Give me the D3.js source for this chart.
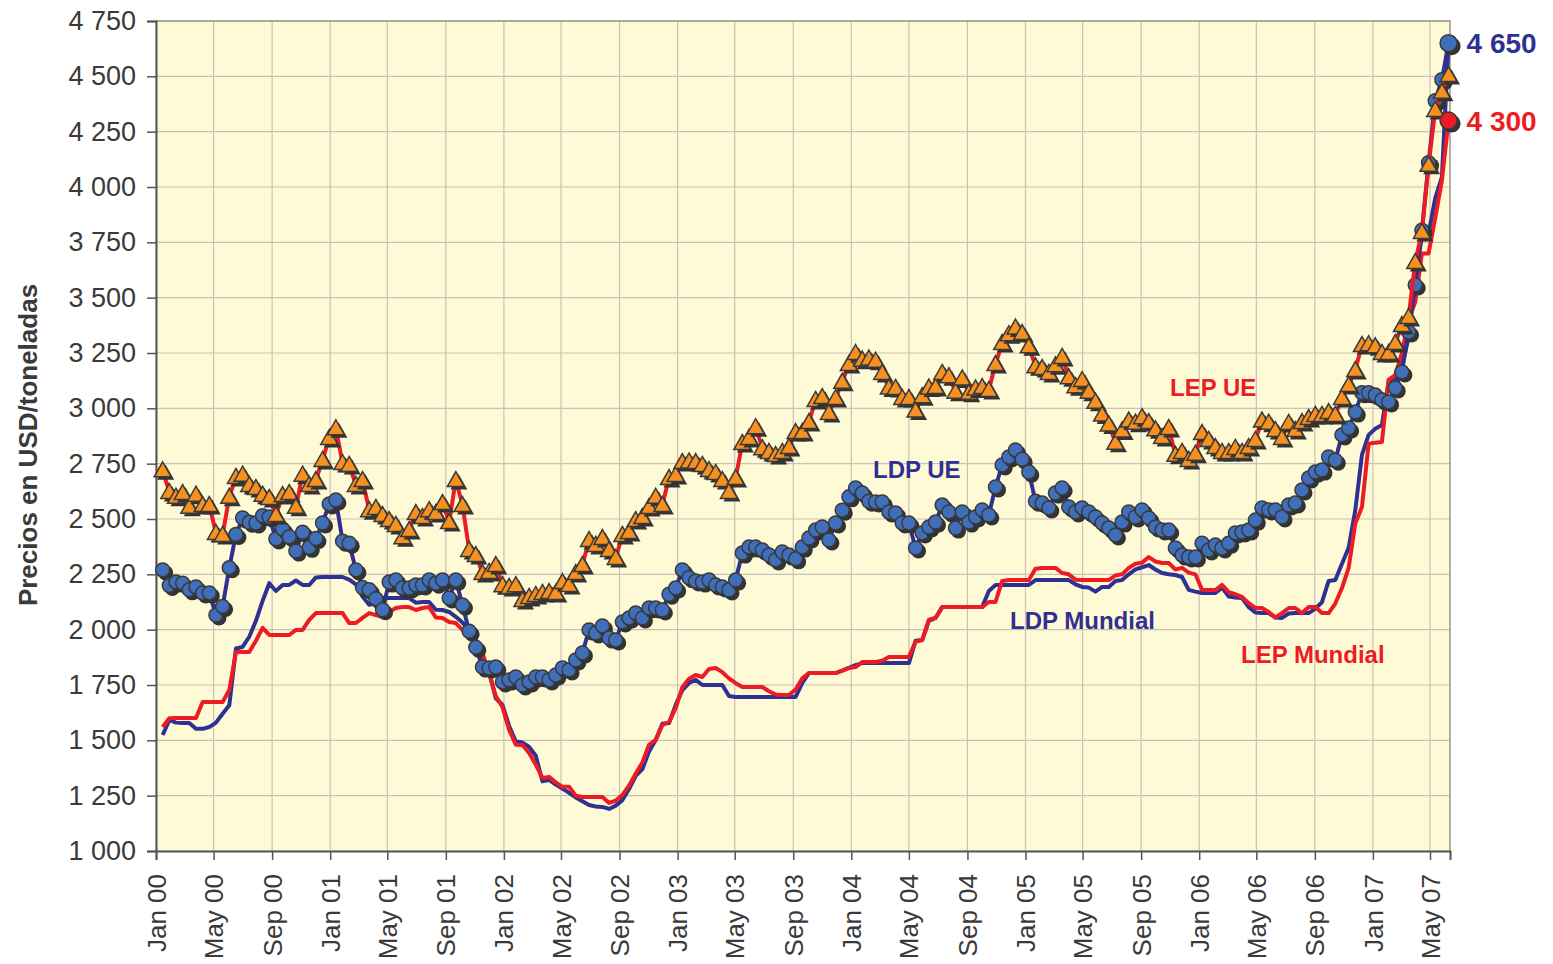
<!DOCTYPE html>
<html>
<head>
<meta charset="utf-8">
<script src="https://cdn.jsdelivr.net/npm/d3@7/dist/d3.min.js"></script>
<style>
  body { margin: 0; background: #fff; }
  svg { display: block; }
  text { font-family: "Liberation Sans", Arial, Helvetica, sans-serif; }
</style>
</head>
<body>
<div id="chart"></div>
<script>
// biweekly quotes, first one mid January 2000
var firstQuote = "2000-01-15";

var yTicks = [1000, 1250, 1500, 1750, 2000, 2250, 2500, 2750, 3000, 3250, 3500, 3750, 4000, 4250, 4500, 4750];

var xTickLabels = ["Jan 00", "May 00", "Sep 00", "Jan 01", "May 01", "Sep 01", "Jan 02", "May 02", "Sep 02",
    "Jan 03", "May 03", "Sep 03", "Jan 04", "May 04", "Sep 04", "Jan 05", "May 05", "Sep 05",
    "Jan 06", "May 06", "Sep 06", "Jan 07", "May 07"];

// LEP UE (triangles)
var lepUE = [2720,2622,2600,2617,2555,2610,2563,2563,2437,2428,
    2600,2690,2700,2654,2640,2610,2595,2518,2608,2617,
    2555,2700,2654,2676,2767,2866,2910,2753,2744,2654,
    2676,2540,2550,2518,2495,2473,2418,2450,2527,2509,
    2540,2527,2572,2486,2676,2563,2360,2337,2256,2261,
    2292,2201,2193,2201,2134,2148,2157,2166,2170,2166,
    2215,2202,2256,2292,2405,2383,2414,2360,2324,2428,
    2441,2495,2509,2554,2600,2563,2685,2699,2757,2760,
    2757,2744,2721,2708,2676,2622,2685,2843,2866,2915,
    2820,2803,2789,2803,2825,2893,2893,2938,3038,3051,
    2979,3047,3120,3200,3250,3220,3225,3215,3160,3094,
    3092,3047,3047,2990,3055,3094,3096,3160,3145,3075,
    3135,3070,3090,3096,3083,3200,3295,3335,3365,3340,
    3280,3190,3182,3160,3195,3232,3140,3100,3128,3075,
    3030,2972,2927,2845,2900,2945,2935,2960,2938,2905,
    2870,2911,2790,2803,2767,2795,2888,2857,2825,2803,
    2803,2821,2803,2825,2857,2945,2935,2902,2866,2934,
    2902,2938,2956,2970,2970,2983,2970,3047,3105,3173,
    3286,3290,3280,3250,3250,3295,3376,3413,3661,3797,
    4100,4348,4430,4506];

// LDP UE (dots)
var ldpUE = [2270,2200,2215,2210,2180,2193,2166,2166,2066,2105,
    2280,2430,2505,2485,2482,2515,2509,2410,2455,2420,
    2355,2440,2372,2412,2482,2568,2586,2400,2391,2270,
    2190,2180,2140,2090,2215,2224,2188,2188,2202,2202,
    2224,2210,2224,2143,2224,2111,1993,1920,1831,1827,
    1831,1764,1773,1786,1750,1764,1786,1786,1773,1795,
    1827,1818,1863,1895,1999,1985,2017,1962,1953,2035,
    2053,2075,2053,2098,2098,2089,2160,2188,2270,2235,
    2220,2215,2224,2202,2193,2179,2224,2346,2373,2373,
    2360,2337,2315,2351,2337,2320,2373,2414,2450,2464,
    2405,2482,2540,2600,2640,2617,2580,2577,2577,2532,
    2527,2482,2482,2369,2437,2464,2486,2563,2532,2459,
    2532,2486,2509,2541,2518,2645,2744,2780,2812,2770,
    2712,2580,2572,2550,2617,2640,2554,2532,2550,2532,
    2509,2482,2459,2428,2486,2532,2509,2541,2505,2464,
    2450,2450,2369,2337,2328,2328,2391,2360,2382,2369,
    2391,2437,2441,2450,2495,2550,2541,2541,2509,2563,
    2572,2631,2685,2712,2721,2780,2766,2880,2911,2983,
    3070,3070,3060,3038,3029,3092,3164,3345,3557,3805,
    4110,4390,4485,4650];

// LDP Mundial (navy line)
var ldpMundial = [1524,1592,1580,1578,1578,1552,1552,1560,1580,1620,
    1658,1915,1922,1968,2040,2130,2210,2175,2202,2202,
    2222,2202,2202,2236,2238,2238,2238,2238,2226,2205,
    2150,2112,2120,2143,2143,2143,2143,2143,2122,2125,
    2125,2090,2089,2080,2058,2032,1999,1955,1880,1810,
    1690,1660,1565,1495,1490,1470,1430,1315,1321,1300,
    1282,1263,1242,1225,1208,1201,1199,1190,1205,1230,
    1280,1340,1370,1450,1502,1575,1578,1660,1727,1759,
    1773,1750,1750,1750,1750,1700,1696,1696,1696,1696,
    1696,1696,1696,1696,1696,1696,1760,1804,1804,1804,
    1804,1804,1815,1827,1840,1849,1849,1849,1849,1849,
    1849,1849,1849,1950,1953,2040,2053,2102,2102,2102,
    2102,2102,2102,2102,2175,2202,2202,2202,2202,2202,
    2202,2224,2224,2224,2224,2224,2224,2205,2193,2190,
    2172,2193,2193,2220,2224,2250,2272,2282,2292,2272,
    2256,2250,2247,2238,2180,2172,2166,2166,2166,2190,
    2150,2145,2143,2102,2078,2075,2075,2055,2053,2073,
    2075,2075,2075,2095,2124,2220,2224,2298,2370,2540,
    2790,2880,2908,2925,3120,3130,3190,3320,3600,3775,
    3790,3950,4045,4650];

// LEP Mundial (red line)
var lepMundial = [1560,1600,1601,1601,1601,1601,1673,1673,1673,1673,
    1727,1899,1899,1899,1950,2008,1976,1976,1976,1976,
    1999,1999,2044,2075,2075,2075,2075,2075,2030,2030,
    2053,2075,2066,2057,2080,2098,2102,2102,2089,2098,
    2102,2055,2053,2035,2030,1999,1968,1940,1895,1800,
    1700,1650,1547,1480,1479,1443,1390,1330,1335,1310,
    1290,1290,1250,1244,1244,1244,1244,1217,1228,1253,
    1295,1350,1400,1480,1502,1569,1583,1645,1740,1778,
    1795,1786,1822,1827,1808,1780,1758,1741,1741,1741,
    1741,1722,1707,1705,1705,1730,1780,1804,1804,1804,
    1804,1804,1815,1827,1831,1854,1854,1854,1860,1877,
    1877,1877,1877,1945,1953,2045,2053,2102,2102,2102,
    2102,2102,2102,2102,2125,2125,2220,2224,2224,2224,
    2224,2275,2279,2279,2279,2256,2250,2226,2224,2224,
    2224,2224,2224,2245,2250,2279,2298,2303,2328,2308,
    2301,2301,2272,2279,2258,2250,2180,2179,2179,2202,
    2170,2160,2148,2120,2098,2098,2080,2055,2075,2098,
    2098,2075,2102,2102,2075,2075,2118,2188,2279,2480,
    2554,2840,2845,2848,3130,3150,3250,3400,3480,3700,
    3700,3860,4030,4300];

var navy = "#2e3192",
    red = "#ed1c24",
    dotBlue = "#3f6fba",
    orange = "#f7901e",
    shadow = "#333333",
    ink = "#3a3a3a";

var w = 1553, h = 964,
    plotL = 156, plotR = 1450, plotT = 21, plotB = 851;

var svg = d3.select("#chart").append("svg")
    .attr("width", w)
    .attr("height", h);

var start = d3.timeParse("%Y-%m-%d")(firstQuote);
var dates = lepUE.map(function(d, i) { return d3.timeDay.offset(start, 14 * i); });

var x = d3.scaleTime()
    .domain([new Date(2000, 0, 1), new Date(2007, 5, 12)])
    .range([plotL, plotR]);
var y = d3.scaleLinear()
    .domain([1000, 4750])
    .range([plotB, plotT]);

var parseTick = d3.timeParse("%b %y");
var xTicks = xTickLabels.map(parseTick);

var es = d3.formatLocale({ decimal: ",", thousands: " ", grouping: [3], currency: ["", ""] });
var fmt = es.format(",");

// plot background + grid
svg.append("rect")
    .attr("x", plotL).attr("y", plotT)
    .attr("width", plotR - plotL).attr("height", plotB - plotT)
    .attr("fill", "#fffad6");

var grid = svg.append("g").attr("stroke", "#c9c1b9").attr("stroke-width", 1.2);
grid.selectAll(".hg").data(yTicks).enter().append("line")
    .attr("x1", plotL).attr("x2", plotR)
    .attr("y1", function(d) { return y(d); }).attr("y2", function(d) { return y(d); });
grid.selectAll(".vg").data(xTicks).enter().append("line")
    .attr("y1", plotT).attr("y2", plotB)
    .attr("x1", function(d) { return x(d); }).attr("x2", function(d) { return x(d); });

// frame top / right
svg.append("path")
    .attr("d", "M" + plotL + "," + plotT + "H" + plotR + "V" + plotB)
    .attr("fill", "none").attr("stroke", "#9d958d").attr("stroke-width", 1.5);

// axes
var yAxis = svg.append("g")
    .attr("transform", "translate(" + plotL + ",0)")
    .call(d3.axisLeft(y).tickValues(yTicks).tickFormat(fmt).tickSize(9).tickPadding(11));
var xAxis = svg.append("g")
    .attr("transform", "translate(0," + plotB + ")")
    .call(d3.axisBottom(x).tickValues(xTicks).tickFormat(d3.timeFormat("%b %y")).tickSize(9));

[yAxis, xAxis].forEach(function(a) {
    a.select(".domain").attr("stroke", "#555").attr("stroke-width", 2);
    a.selectAll(".tick line").attr("stroke", "#555").attr("stroke-width", 1.5);
    a.selectAll("text").attr("fill", ink).style("font-size", "26px");
});
yAxis.selectAll("text").style("font-size", "27px");
xAxis.selectAll("text")
    .attr("transform", "rotate(-90)")
    .attr("text-anchor", "end")
    .attr("x", -23)
    .attr("y", 0)
    .attr("dy", "0.35em");

svg.append("text")
    .attr("transform", "translate(37,445) rotate(-90)")
    .attr("text-anchor", "middle")
    .attr("fill", ink)
    .style("font-size", "26px")
    .style("font-weight", "bold")
    .text("Precios en USD/toneladas");

// series
function lineOf(values) {
    return d3.line()
        .x(function(d, i) { return x(dates[i]); })
        .y(function(d) { return y(d); })(values);
}

svg.append("path").attr("d", lineOf(ldpMundial))
    .attr("fill", "none").attr("stroke", navy).attr("stroke-width", 4).attr("stroke-linejoin", "round");
svg.append("path").attr("d", lineOf(lepMundial))
    .attr("fill", "none").attr("stroke", red).attr("stroke-width", 4).attr("stroke-linejoin", "round");

// LDP UE: line + dots with hard shadow
svg.append("path").attr("d", lineOf(ldpUE))
    .attr("fill", "none").attr("stroke", navy).attr("stroke-width", 4).attr("stroke-linejoin", "round");
var dots = svg.append("g").selectAll("g")
    .data(ldpUE.slice(0, ldpUE.length - 1))
    .enter().append("g")
    .attr("transform", function(d, i) { return "translate(" + x(dates[i]) + "," + y(d) + ")"; });
dots.append("circle").attr("cx", 3).attr("cy", 3).attr("r", 7.5).attr("fill", shadow);
dots.append("circle").attr("r", 7).attr("fill", dotBlue).attr("stroke", ink).attr("stroke-width", 1.5);

// LEP UE: line + triangles
svg.append("path").attr("d", lineOf(lepUE))
    .attr("fill", "none").attr("stroke", red).attr("stroke-width", 4).attr("stroke-linejoin", "round");
var tri = "M0,-8.5L8.5,6.5L-8.5,6.5Z";
var tris = svg.append("g").selectAll("g")
    .data(lepUE)
    .enter().append("g")
    .attr("transform", function(d, i) { return "translate(" + x(dates[i]) + "," + y(d) + ")"; });
tris.append("path").attr("d", tri).attr("transform", "translate(3,3)").attr("fill", shadow);
tris.append("path").attr("d", tri).attr("fill", orange).attr("stroke", ink).attr("stroke-width", 1.5);

// end values
var last = dates.length - 1;
var ends = [
    { v: ldpMundial[last], c: dotBlue, t: navy },
    { v: lepMundial[last], c: red, t: red }
];
var endG = svg.append("g").selectAll("g").data(ends).enter().append("g")
    .attr("transform", function(d) { return "translate(" + x(dates[last]) + "," + y(d.v) + ")"; });
endG.append("circle").attr("cx", 3).attr("cy", 3).attr("r", 9).attr("fill", shadow);
endG.append("circle").attr("r", 8.5).attr("fill", function(d) { return d.c; })
    .attr("stroke", ink).attr("stroke-width", 1.5);
endG.append("text")
    .attr("x", 18).attr("dy", "0.36em")
    .attr("fill", function(d) { return d.t; })
    .style("font-size", "28px").style("font-weight", "bold")
    .text(function(d) { return fmt(d.v); });

// series names
var names = [
    { t: "LEP UE", x: 1170, y: 396, c: red },
    { t: "LDP UE", x: 873, y: 478, c: navy },
    { t: "LDP Mundial", x: 1010, y: 629, c: navy },
    { t: "LEP Mundial", x: 1241, y: 663, c: red }
];
svg.append("g").selectAll("text").data(names).enter().append("text")
    .attr("x", function(d) { return d.x; })
    .attr("y", function(d) { return d.y; })
    .attr("fill", function(d) { return d.c; })
    .style("font-size", "24px").style("font-weight", "bold")
    .text(function(d) { return d.t; });
</script>
</body>
</html>
